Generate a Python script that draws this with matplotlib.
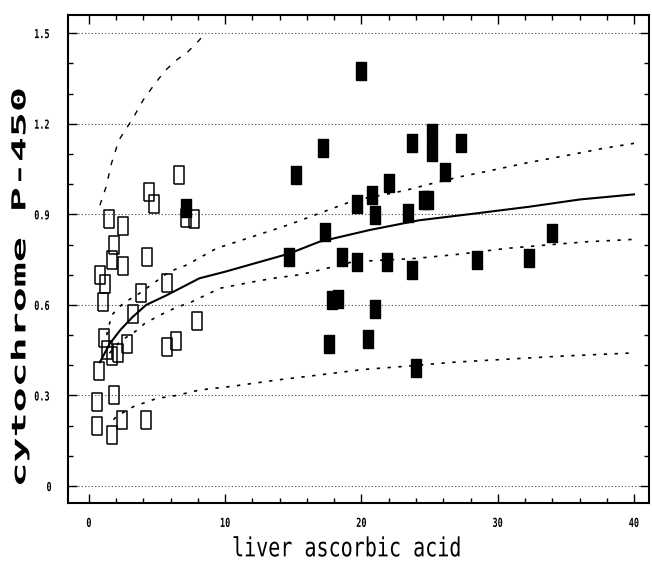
import matplotlib
matplotlib.use('Agg')
import matplotlib.pyplot as plt
from matplotlib.ticker import MultipleLocator
from matplotlib.patheffects import AbstractPathEffect
from matplotlib.transforms import Affine2D

# open squares (low ascorbic acid group)
open_x = [0.56, 0.6, 1.7, 2.4, 4.2, 1.8, 0.75, 1.1, 1.3, 1.7, 2.1, 2.76, 5.7, 6.4,
          7.9, 3.2, 1.0, 3.85, 0.8, 1.17, 5.76, 1.7, 2.5, 4.27, 1.8, 1.5, 2.5,
          4.4, 4.76, 6.6, 7.1, 7.7]
open_y = [0.28, 0.20, 0.17, 0.22, 0.22, 0.30, 0.38, 0.49, 0.45, 0.43, 0.44, 0.47, 0.46, 0.48,
          0.547, 0.57, 0.61, 0.64, 0.70, 0.67, 0.673, 0.75, 0.73, 0.76, 0.80, 0.886, 0.86,
          0.975, 0.934, 1.03, 0.887, 0.886]

# filled squares
fill_x = [7.15, 14.7, 15.2, 17.2, 17.3, 17.65, 17.8, 18.3, 18.6, 19.7, 19.7, 19.97,
          20.5, 20.8, 21.0, 21.0, 21.85, 22.05, 23.4, 23.7, 23.7, 24.0, 24.6, 24.9,
          25.2, 25.2, 26.1, 27.3, 28.5, 32.3, 34.0]
fill_y = [0.92, 0.76, 1.03, 1.12, 0.84, 0.47, 0.615, 0.62, 0.76, 0.935, 0.743, 1.375,
          0.486, 0.964, 0.897, 0.585, 0.743, 1.004, 0.903, 1.135, 0.715, 0.39, 0.947, 0.947,
          1.17, 1.107, 1.04, 1.135, 0.75, 0.754, 0.837]

# fitted curve and limit curves
fit_x = [0.8, 1.5, 2.3, 3.2, 4.2, 5.7, 8.1, 10.0, 14.7, 16.9, 20.6, 24.2, 28.4, 32.3, 36.0, 40.0]
fit_y = [0.41, 0.47, 0.517, 0.56, 0.60, 0.632, 0.688, 0.71, 0.77, 0.809, 0.848, 0.88, 0.903, 0.925, 0.949, 0.966]

up_x = [1.3, 1.66, 2.5, 3.7, 5.9, 7.16, 9.35, 12.0, 14.7, 16.9, 19.5, 21.56, 23.3, 25.0,
        27.2, 29.6, 32.1, 35.2, 37.7, 40.0]
up_y = [0.50, 0.566, 0.605, 0.638, 0.71, 0.732, 0.787, 0.826, 0.866, 0.903, 0.947, 0.964, 0.98, 1.0,
        1.024, 1.046, 1.07, 1.096, 1.118, 1.135]

lo_x = [1.5, 2.3, 3.37, 4.1, 4.96, 5.7, 6.54, 7.4, 9.6, 12.0, 13.5, 15.5, 16.9, 19.4,
        24.0, 27.2, 30.6, 33.5, 36.5, 40.0]
lo_y = [0.44, 0.48, 0.511, 0.539, 0.56, 0.577, 0.594, 0.607, 0.655, 0.676, 0.688, 0.70, 0.715, 0.743,
        0.754, 0.768, 0.787, 0.798, 0.809, 0.817]

low_x = [1.8, 2.0, 3.25, 4.96, 6.4, 8.1, 10.6, 13.75, 16.9, 20.1, 23.3, 26.7, 30.6, 34.5, 40.0]
low_y = [0.22, 0.23, 0.263, 0.29, 0.30, 0.318, 0.331, 0.351, 0.368, 0.386, 0.397, 0.41, 0.42, 0.43, 0.441]

steep_x = [0.8, 1.25, 1.66, 2.2, 3.25, 4.0, 4.8, 5.57, 6.4, 7.3, 8.1, 8.5]
steep_y = [0.93, 0.99, 1.07, 1.146, 1.22, 1.28, 1.33, 1.375, 1.41, 1.44, 1.477, 1.50]

xticks = [0, 10, 20, 30, 40]
xticklabels = ['0', '10', '20', '30', '40']
yticks = [0, 0.3, 0.6, 0.9, 1.2, 1.5]
yticklabels = ['0', '0.3', '0.6', '0.9', '1.2', '1.5']


class Stretch(AbstractPathEffect):
    # stretch glyphs along the baseline, about the middle of the string
    def __init__(self, sx=1.0, sy=1.0):
        super().__init__()
        self.sx = sx
        self.sy = sy

    def draw_path(self, renderer, gc, tpath, affine, rgbFace=None):
        v = tpath.vertices
        cx = (v[:, 0].min() + v[:, 0].max()) / 2
        pre = Affine2D().translate(-cx, 0).scale(self.sx, self.sy).translate(cx, 0)
        renderer.draw_path(gc, tpath, pre + affine, rgbFace)


mono = 'DejaVu Sans Mono'
rect = [(-0.5, -1), (0.5, -1), (0.5, 1), (-0.5, 1), (-0.5, -1)]

fig = plt.figure(figsize=(6.52, 5.66), dpi=100)
ax = fig.add_axes([68/652, 1 - 503/566, (649 - 68)/652, (503 - 15)/566])

for yv in yticks:
    ax.axhline(yv, color='#444444', lw=0.8, ls=(0, (1, 2)), zorder=1)

ax.plot(fit_x, fit_y, color='black', lw=1.5, zorder=2)
ax.plot(up_x, up_y, color='black', lw=1.2, ls=(0, (2, 4.5)), zorder=2)
ax.plot(lo_x, lo_y, color='black', lw=1.2, ls=(0, (2, 4.5)), zorder=2)
ax.plot(low_x, low_y, color='black', lw=1.2, ls=(0, (2, 4.5)), zorder=2)
ax.plot(steep_x, steep_y, color='black', lw=1.0, ls=(0, (4, 6)), zorder=2)

ax.plot(open_x, open_y, ls='none', marker=rect, ms=13, mfc='none', mec='black', mew=1.1, zorder=3)
ax.plot(fill_x, fill_y, ls='none', marker=rect, ms=13, mfc='black', mec='black', mew=1.0, zorder=4)

ax.set_xlim(-1.54, 41.1)
ax.set_ylim(-0.056, 1.56)

ax.set_xticks(xticks)
ax.set_xticklabels(xticklabels)
ax.set_yticks(yticks)
ax.set_yticklabels(yticklabels)
ax.xaxis.set_minor_locator(MultipleLocator(2))
ax.yaxis.set_minor_locator(MultipleLocator(0.1))

ax.tick_params(which='both', direction='in', top=True, right=True, width=1.0, color='black')
ax.tick_params(which='major', length=6.5)
ax.tick_params(which='minor', length=3.5)
ax.tick_params(axis='x', pad=10)
ax.tick_params(axis='y', pad=11)
for lab in ax.get_xticklabels() + ax.get_yticklabels():
    lab.set_fontfamily(mono)
    lab.set_fontsize(8.5)
    lab.set_fontweight('bold')
    lab.set_path_effects([Stretch(0.72, 1.05)])

for sp in ax.spines.values():
    sp.set_linewidth(1.5)

# smaller font, stretched both ways, so the layout box stays clear of the tick labels
ax.set_ylabel('cytochrome P-450', fontsize=10.5, family=mono, weight='bold',
              va='center', path_effects=[Stretch(2.85, 1.33)])
ax.yaxis.set_label_coords(-0.081, 0.44)
ax.set_xlabel('liver ascorbic acid', fontsize=19, family=mono,
              va='center', path_effects=[Stretch(0.76)])
ax.xaxis.set_label_coords(0.48, -0.095)

plt.savefig('out.png', dpi=100)
